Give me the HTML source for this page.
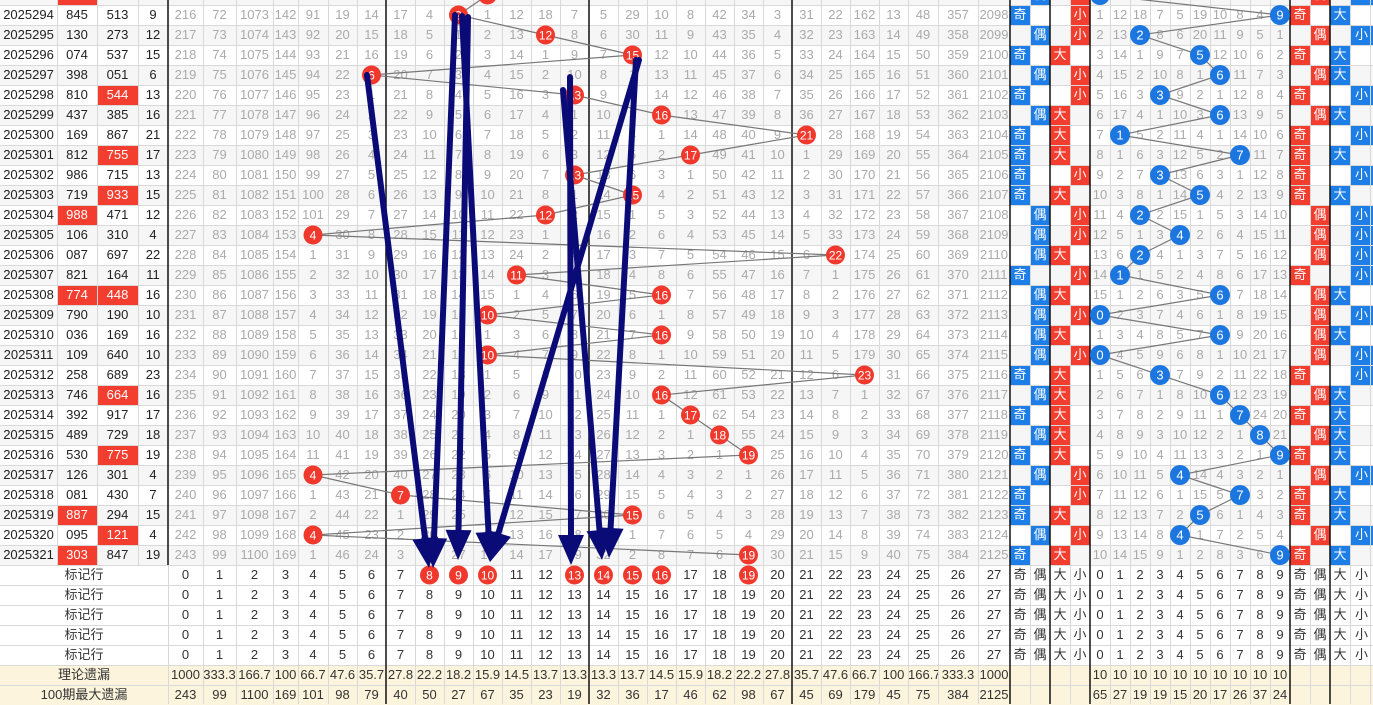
<!DOCTYPE html>
<html><head><meta charset="utf-8">
<style>
body{margin:0;width:1373px;height:704px;overflow:hidden;background:#fff;position:relative}
table{position:absolute;top:-15px;left:0;border-collapse:separate;border-spacing:0;table-layout:fixed;width:1373px;font:13px "Liberation Sans","Noto Sans CJK SC",sans-serif}
td{height:20px;padding:0;text-align:center;line-height:20px;color:#aaa;white-space:nowrap;overflow:hidden}
tr:nth-child(odd) td{background:#f6f6f6}
tr.d td:nth-child(-n+4){color:#222}
td.x{background:#f23d2f!important;color:#fff!important}
td.b{background:#1c7ee6!important;color:#fff!important}
tr.m td{color:#333;background:#fff}
tr.s td{color:#333;background:#fcf4dc}
svg{position:absolute;left:0;top:0}
</style></head><body>
<table>
<colgroup><col style="width:57px"><col style="width:40px"><col style="width:41px"><col style="width:30px">
<col style="width:35px"><col style="width:33px"><col style="width:37px"><col style="width:25px"><col style="width:30px"><col style="width:29px"><col style="width:29px">
<col style="width:29px"><col style="width:29px"><col style="width:29px"><col style="width:29px"><col style="width:29px"><col style="width:29px"><col style="width:29px">
<col style="width:29px"><col style="width:29px"><col style="width:29px"><col style="width:29px"><col style="width:29px"><col style="width:29px"><col style="width:29px">
<col style="width:29px"><col style="width:29px"><col style="width:29px"><col style="width:29px"><col style="width:30px"><col style="width:40px"><col style="width:32px">
<col style="width:20px"><col style="width:20px"><col style="width:20px"><col style="width:20px">
<col style="width:20px"><col style="width:20px"><col style="width:20px"><col style="width:20px"><col style="width:20px"><col style="width:20px"><col style="width:20px"><col style="width:20px"><col style="width:20px"><col style="width:20px">
<col style="width:20px"><col style="width:20px"><col style="width:20px"><col style="width:23px"></colgroup>
<tr class="d"><td></td><td class="x"></td><td></td><td></td><td></td><td></td><td></td><td></td><td></td><td></td><td></td><td></td><td></td><td></td><td></td><td></td><td></td><td></td><td></td><td></td><td></td><td></td><td></td><td></td><td></td><td></td><td></td><td></td><td></td><td></td><td></td><td></td><td></td><td class="b">偶</td><td></td><td class="x">小</td><td></td><td></td><td></td><td></td><td></td><td></td><td></td><td></td><td></td><td></td><td></td><td class="x">偶</td><td></td><td class="b">小</td></tr>
<tr class="d"><td>2025294</td><td>845</td><td>513</td><td>9</td><td>216</td><td>72</td><td>1073</td><td>142</td><td>91</td><td>19</td><td>14</td><td>17</td><td>4</td><td></td><td>1</td><td>12</td><td>18</td><td>7</td><td>5</td><td>29</td><td>10</td><td>8</td><td>42</td><td>34</td><td>3</td><td>31</td><td>22</td><td>162</td><td>13</td><td>48</td><td>357</td><td>2098</td><td class="b">奇</td><td></td><td></td><td class="x">小</td><td>1</td><td>12</td><td>18</td><td>7</td><td>5</td><td>19</td><td>10</td><td>8</td><td>4</td><td></td><td class="x">奇</td><td></td><td class="b">大</td><td></td></tr>
<tr class="d"><td>2025295</td><td>130</td><td>273</td><td>12</td><td>217</td><td>73</td><td>1074</td><td>143</td><td>92</td><td>20</td><td>15</td><td>18</td><td>5</td><td>1</td><td>2</td><td>13</td><td></td><td>8</td><td>6</td><td>30</td><td>11</td><td>9</td><td>43</td><td>35</td><td>4</td><td>32</td><td>23</td><td>163</td><td>14</td><td>49</td><td>358</td><td>2099</td><td></td><td class="b">偶</td><td></td><td class="x">小</td><td>2</td><td>13</td><td></td><td>8</td><td>6</td><td>20</td><td>11</td><td>9</td><td>5</td><td>1</td><td></td><td class="x">偶</td><td></td><td class="b">小</td></tr>
<tr class="d"><td>2025296</td><td>074</td><td>537</td><td>15</td><td>218</td><td>74</td><td>1075</td><td>144</td><td>93</td><td>21</td><td>16</td><td>19</td><td>6</td><td>2</td><td>3</td><td>14</td><td>1</td><td>9</td><td>7</td><td></td><td>12</td><td>10</td><td>44</td><td>36</td><td>5</td><td>33</td><td>24</td><td>164</td><td>15</td><td>50</td><td>359</td><td>2100</td><td class="b">奇</td><td></td><td class="x">大</td><td></td><td>3</td><td>14</td><td>1</td><td>9</td><td>7</td><td></td><td>12</td><td>10</td><td>6</td><td>2</td><td class="x">奇</td><td></td><td class="b">大</td><td></td></tr>
<tr class="d"><td>2025297</td><td>398</td><td>051</td><td>6</td><td>219</td><td>75</td><td>1076</td><td>145</td><td>94</td><td>22</td><td></td><td>20</td><td>7</td><td>3</td><td>4</td><td>15</td><td>2</td><td>10</td><td>8</td><td>1</td><td>13</td><td>11</td><td>45</td><td>37</td><td>6</td><td>34</td><td>25</td><td>165</td><td>16</td><td>51</td><td>360</td><td>2101</td><td></td><td class="b">偶</td><td></td><td class="x">小</td><td>4</td><td>15</td><td>2</td><td>10</td><td>8</td><td>1</td><td></td><td>11</td><td>7</td><td>3</td><td></td><td class="x">偶</td><td class="b">大</td><td></td></tr>
<tr class="d"><td>2025298</td><td>810</td><td class="x">544</td><td>13</td><td>220</td><td>76</td><td>1077</td><td>146</td><td>95</td><td>23</td><td>1</td><td>21</td><td>8</td><td>4</td><td>5</td><td>16</td><td>3</td><td></td><td>9</td><td>2</td><td>14</td><td>12</td><td>46</td><td>38</td><td>7</td><td>35</td><td>26</td><td>166</td><td>17</td><td>52</td><td>361</td><td>2102</td><td class="b">奇</td><td></td><td></td><td class="x">小</td><td>5</td><td>16</td><td>3</td><td></td><td>9</td><td>2</td><td>1</td><td>12</td><td>8</td><td>4</td><td class="x">奇</td><td></td><td></td><td class="b">小</td></tr>
<tr class="d"><td>2025299</td><td>437</td><td>385</td><td>16</td><td>221</td><td>77</td><td>1078</td><td>147</td><td>96</td><td>24</td><td>2</td><td>22</td><td>9</td><td>5</td><td>6</td><td>17</td><td>4</td><td>1</td><td>10</td><td>3</td><td></td><td>13</td><td>47</td><td>39</td><td>8</td><td>36</td><td>27</td><td>167</td><td>18</td><td>53</td><td>362</td><td>2103</td><td></td><td class="b">偶</td><td class="x">大</td><td></td><td>6</td><td>17</td><td>4</td><td>1</td><td>10</td><td>3</td><td></td><td>13</td><td>9</td><td>5</td><td></td><td class="x">偶</td><td class="b">大</td><td></td></tr>
<tr class="d"><td>2025300</td><td>169</td><td>867</td><td>21</td><td>222</td><td>78</td><td>1079</td><td>148</td><td>97</td><td>25</td><td>3</td><td>23</td><td>10</td><td>6</td><td>7</td><td>18</td><td>5</td><td>2</td><td>11</td><td>4</td><td>1</td><td>14</td><td>48</td><td>40</td><td>9</td><td></td><td>28</td><td>168</td><td>19</td><td>54</td><td>363</td><td>2104</td><td class="b">奇</td><td></td><td class="x">大</td><td></td><td>7</td><td></td><td>5</td><td>2</td><td>11</td><td>4</td><td>1</td><td>14</td><td>10</td><td>6</td><td class="x">奇</td><td></td><td></td><td class="b">小</td></tr>
<tr class="d"><td>2025301</td><td>812</td><td class="x">755</td><td>17</td><td>223</td><td>79</td><td>1080</td><td>149</td><td>98</td><td>26</td><td>4</td><td>24</td><td>11</td><td>7</td><td>8</td><td>19</td><td>6</td><td>3</td><td>12</td><td>5</td><td>2</td><td></td><td>49</td><td>41</td><td>10</td><td>1</td><td>29</td><td>169</td><td>20</td><td>55</td><td>364</td><td>2105</td><td class="b">奇</td><td></td><td class="x">大</td><td></td><td>8</td><td>1</td><td>6</td><td>3</td><td>12</td><td>5</td><td>2</td><td></td><td>11</td><td>7</td><td class="x">奇</td><td></td><td class="b">大</td><td></td></tr>
<tr class="d"><td>2025302</td><td>986</td><td>715</td><td>13</td><td>224</td><td>80</td><td>1081</td><td>150</td><td>99</td><td>27</td><td>5</td><td>25</td><td>12</td><td>8</td><td>9</td><td>20</td><td>7</td><td></td><td>13</td><td>6</td><td>3</td><td>1</td><td>50</td><td>42</td><td>11</td><td>2</td><td>30</td><td>170</td><td>21</td><td>56</td><td>365</td><td>2106</td><td class="b">奇</td><td></td><td></td><td class="x">小</td><td>9</td><td>2</td><td>7</td><td></td><td>13</td><td>6</td><td>3</td><td>1</td><td>12</td><td>8</td><td class="x">奇</td><td></td><td></td><td class="b">小</td></tr>
<tr class="d"><td>2025303</td><td>719</td><td class="x">933</td><td>15</td><td>225</td><td>81</td><td>1082</td><td>151</td><td>100</td><td>28</td><td>6</td><td>26</td><td>13</td><td>9</td><td>10</td><td>21</td><td>8</td><td>1</td><td>14</td><td></td><td>4</td><td>2</td><td>51</td><td>43</td><td>12</td><td>3</td><td>31</td><td>171</td><td>22</td><td>57</td><td>366</td><td>2107</td><td class="b">奇</td><td></td><td class="x">大</td><td></td><td>10</td><td>3</td><td>8</td><td>1</td><td>14</td><td></td><td>4</td><td>2</td><td>13</td><td>9</td><td class="x">奇</td><td></td><td class="b">大</td><td></td></tr>
<tr class="d"><td>2025304</td><td class="x">988</td><td>471</td><td>12</td><td>226</td><td>82</td><td>1083</td><td>152</td><td>101</td><td>29</td><td>7</td><td>27</td><td>14</td><td>10</td><td>11</td><td>22</td><td></td><td>2</td><td>15</td><td>1</td><td>5</td><td>3</td><td>52</td><td>44</td><td>13</td><td>4</td><td>32</td><td>172</td><td>23</td><td>58</td><td>367</td><td>2108</td><td></td><td class="b">偶</td><td></td><td class="x">小</td><td>11</td><td>4</td><td></td><td>2</td><td>15</td><td>1</td><td>5</td><td>3</td><td>14</td><td>10</td><td></td><td class="x">偶</td><td></td><td class="b">小</td></tr>
<tr class="d"><td>2025305</td><td>106</td><td>310</td><td>4</td><td>227</td><td>83</td><td>1084</td><td>153</td><td></td><td>30</td><td>8</td><td>28</td><td>15</td><td>11</td><td>12</td><td>23</td><td>1</td><td>3</td><td>16</td><td>2</td><td>6</td><td>4</td><td>53</td><td>45</td><td>14</td><td>5</td><td>33</td><td>173</td><td>24</td><td>59</td><td>368</td><td>2109</td><td></td><td class="b">偶</td><td></td><td class="x">小</td><td>12</td><td>5</td><td>1</td><td>3</td><td></td><td>2</td><td>6</td><td>4</td><td>15</td><td>11</td><td></td><td class="x">偶</td><td></td><td class="b">小</td></tr>
<tr class="d"><td>2025306</td><td>087</td><td>697</td><td>22</td><td>228</td><td>84</td><td>1085</td><td>154</td><td>1</td><td>31</td><td>9</td><td>29</td><td>16</td><td>12</td><td>13</td><td>24</td><td>2</td><td>4</td><td>17</td><td>3</td><td>7</td><td>5</td><td>54</td><td>46</td><td>15</td><td>6</td><td></td><td>174</td><td>25</td><td>60</td><td>369</td><td>2110</td><td></td><td class="b">偶</td><td class="x">大</td><td></td><td>13</td><td>6</td><td></td><td>4</td><td>1</td><td>3</td><td>7</td><td>5</td><td>16</td><td>12</td><td></td><td class="x">偶</td><td></td><td class="b">小</td></tr>
<tr class="d"><td>2025307</td><td>821</td><td>164</td><td>11</td><td>229</td><td>85</td><td>1086</td><td>155</td><td>2</td><td>32</td><td>10</td><td>30</td><td>17</td><td>13</td><td>14</td><td></td><td>3</td><td>5</td><td>18</td><td>4</td><td>8</td><td>6</td><td>55</td><td>47</td><td>16</td><td>7</td><td>1</td><td>175</td><td>26</td><td>61</td><td>370</td><td>2111</td><td class="b">奇</td><td></td><td></td><td class="x">小</td><td>14</td><td></td><td>1</td><td>5</td><td>2</td><td>4</td><td>8</td><td>6</td><td>17</td><td>13</td><td class="x">奇</td><td></td><td></td><td class="b">小</td></tr>
<tr class="d"><td>2025308</td><td class="x">774</td><td class="x">448</td><td>16</td><td>230</td><td>86</td><td>1087</td><td>156</td><td>3</td><td>33</td><td>11</td><td>31</td><td>18</td><td>14</td><td>15</td><td>1</td><td>4</td><td>6</td><td>19</td><td>5</td><td></td><td>7</td><td>56</td><td>48</td><td>17</td><td>8</td><td>2</td><td>176</td><td>27</td><td>62</td><td>371</td><td>2112</td><td></td><td class="b">偶</td><td class="x">大</td><td></td><td>15</td><td>1</td><td>2</td><td>6</td><td>3</td><td>5</td><td></td><td>7</td><td>18</td><td>14</td><td></td><td class="x">偶</td><td class="b">大</td><td></td></tr>
<tr class="d"><td>2025309</td><td>790</td><td>190</td><td>10</td><td>231</td><td>87</td><td>1088</td><td>157</td><td>4</td><td>34</td><td>12</td><td>32</td><td>19</td><td>15</td><td></td><td>2</td><td>5</td><td>7</td><td>20</td><td>6</td><td>1</td><td>8</td><td>57</td><td>49</td><td>18</td><td>9</td><td>3</td><td>177</td><td>28</td><td>63</td><td>372</td><td>2113</td><td></td><td class="b">偶</td><td></td><td class="x">小</td><td></td><td>2</td><td>3</td><td>7</td><td>4</td><td>6</td><td>1</td><td>8</td><td>19</td><td>15</td><td></td><td class="x">偶</td><td></td><td class="b">小</td></tr>
<tr class="d"><td>2025310</td><td>036</td><td>169</td><td>16</td><td>232</td><td>88</td><td>1089</td><td>158</td><td>5</td><td>35</td><td>13</td><td>33</td><td>20</td><td>16</td><td>1</td><td>3</td><td>6</td><td>8</td><td>21</td><td>7</td><td></td><td>9</td><td>58</td><td>50</td><td>19</td><td>10</td><td>4</td><td>178</td><td>29</td><td>64</td><td>373</td><td>2114</td><td></td><td class="b">偶</td><td class="x">大</td><td></td><td>1</td><td>3</td><td>4</td><td>8</td><td>5</td><td>7</td><td></td><td>9</td><td>20</td><td>16</td><td></td><td class="x">偶</td><td class="b">大</td><td></td></tr>
<tr class="d"><td>2025311</td><td>109</td><td>640</td><td>10</td><td>233</td><td>89</td><td>1090</td><td>159</td><td>6</td><td>36</td><td>14</td><td>34</td><td>21</td><td>17</td><td></td><td>4</td><td>7</td><td>9</td><td>22</td><td>8</td><td>1</td><td>10</td><td>59</td><td>51</td><td>20</td><td>11</td><td>5</td><td>179</td><td>30</td><td>65</td><td>374</td><td>2115</td><td></td><td class="b">偶</td><td></td><td class="x">小</td><td></td><td>4</td><td>5</td><td>9</td><td>6</td><td>8</td><td>1</td><td>10</td><td>21</td><td>17</td><td></td><td class="x">偶</td><td></td><td class="b">小</td></tr>
<tr class="d"><td>2025312</td><td>258</td><td>689</td><td>23</td><td>234</td><td>90</td><td>1091</td><td>160</td><td>7</td><td>37</td><td>15</td><td>35</td><td>22</td><td>18</td><td>1</td><td>5</td><td>8</td><td>10</td><td>23</td><td>9</td><td>2</td><td>11</td><td>60</td><td>52</td><td>21</td><td>12</td><td>6</td><td></td><td>31</td><td>66</td><td>375</td><td>2116</td><td class="b">奇</td><td></td><td class="x">大</td><td></td><td>1</td><td>5</td><td>6</td><td></td><td>7</td><td>9</td><td>2</td><td>11</td><td>22</td><td>18</td><td class="x">奇</td><td></td><td></td><td class="b">小</td></tr>
<tr class="d"><td>2025313</td><td>746</td><td class="x">664</td><td>16</td><td>235</td><td>91</td><td>1092</td><td>161</td><td>8</td><td>38</td><td>16</td><td>36</td><td>23</td><td>19</td><td>2</td><td>6</td><td>9</td><td>11</td><td>24</td><td>10</td><td></td><td>12</td><td>61</td><td>53</td><td>22</td><td>13</td><td>7</td><td>1</td><td>32</td><td>67</td><td>376</td><td>2117</td><td></td><td class="b">偶</td><td class="x">大</td><td></td><td>2</td><td>6</td><td>7</td><td>1</td><td>8</td><td>10</td><td></td><td>12</td><td>23</td><td>19</td><td></td><td class="x">偶</td><td class="b">大</td><td></td></tr>
<tr class="d"><td>2025314</td><td>392</td><td>917</td><td>17</td><td>236</td><td>92</td><td>1093</td><td>162</td><td>9</td><td>39</td><td>17</td><td>37</td><td>24</td><td>20</td><td>3</td><td>7</td><td>10</td><td>12</td><td>25</td><td>11</td><td>1</td><td></td><td>62</td><td>54</td><td>23</td><td>14</td><td>8</td><td>2</td><td>33</td><td>68</td><td>377</td><td>2118</td><td class="b">奇</td><td></td><td class="x">大</td><td></td><td>3</td><td>7</td><td>8</td><td>2</td><td>9</td><td>11</td><td>1</td><td></td><td>24</td><td>20</td><td class="x">奇</td><td></td><td class="b">大</td><td></td></tr>
<tr class="d"><td>2025315</td><td>489</td><td>729</td><td>18</td><td>237</td><td>93</td><td>1094</td><td>163</td><td>10</td><td>40</td><td>18</td><td>38</td><td>25</td><td>21</td><td>4</td><td>8</td><td>11</td><td>13</td><td>26</td><td>12</td><td>2</td><td>1</td><td></td><td>55</td><td>24</td><td>15</td><td>9</td><td>3</td><td>34</td><td>69</td><td>378</td><td>2119</td><td></td><td class="b">偶</td><td class="x">大</td><td></td><td>4</td><td>8</td><td>9</td><td>3</td><td>10</td><td>12</td><td>2</td><td>1</td><td></td><td>21</td><td></td><td class="x">偶</td><td class="b">大</td><td></td></tr>
<tr class="d"><td>2025316</td><td>530</td><td class="x">775</td><td>19</td><td>238</td><td>94</td><td>1095</td><td>164</td><td>11</td><td>41</td><td>19</td><td>39</td><td>26</td><td>22</td><td>5</td><td>9</td><td>12</td><td>14</td><td>27</td><td>13</td><td>3</td><td>2</td><td>1</td><td></td><td>25</td><td>16</td><td>10</td><td>4</td><td>35</td><td>70</td><td>379</td><td>2120</td><td class="b">奇</td><td></td><td class="x">大</td><td></td><td>5</td><td>9</td><td>10</td><td>4</td><td>11</td><td>13</td><td>3</td><td>2</td><td>1</td><td></td><td class="x">奇</td><td></td><td class="b">大</td><td></td></tr>
<tr class="d"><td>2025317</td><td>126</td><td>301</td><td>4</td><td>239</td><td>95</td><td>1096</td><td>165</td><td></td><td>42</td><td>20</td><td>40</td><td>27</td><td>23</td><td>6</td><td>10</td><td>13</td><td>15</td><td>28</td><td>14</td><td>4</td><td>3</td><td>2</td><td>1</td><td>26</td><td>17</td><td>11</td><td>5</td><td>36</td><td>71</td><td>380</td><td>2121</td><td></td><td class="b">偶</td><td></td><td class="x">小</td><td>6</td><td>10</td><td>11</td><td>5</td><td></td><td>14</td><td>4</td><td>3</td><td>2</td><td>1</td><td></td><td class="x">偶</td><td></td><td class="b">小</td></tr>
<tr class="d"><td>2025318</td><td>081</td><td>430</td><td>7</td><td>240</td><td>96</td><td>1097</td><td>166</td><td>1</td><td>43</td><td>21</td><td></td><td>28</td><td>24</td><td>7</td><td>11</td><td>14</td><td>16</td><td>29</td><td>15</td><td>5</td><td>4</td><td>3</td><td>2</td><td>27</td><td>18</td><td>12</td><td>6</td><td>37</td><td>72</td><td>381</td><td>2122</td><td class="b">奇</td><td></td><td></td><td class="x">小</td><td>7</td><td>11</td><td>12</td><td>6</td><td>1</td><td>15</td><td>5</td><td></td><td>3</td><td>2</td><td class="x">奇</td><td></td><td class="b">大</td><td></td></tr>
<tr class="d"><td>2025319</td><td class="x">887</td><td>294</td><td>15</td><td>241</td><td>97</td><td>1098</td><td>167</td><td>2</td><td>44</td><td>22</td><td>1</td><td>29</td><td>25</td><td>8</td><td>12</td><td>15</td><td>17</td><td>30</td><td></td><td>6</td><td>5</td><td>4</td><td>3</td><td>28</td><td>19</td><td>13</td><td>7</td><td>38</td><td>73</td><td>382</td><td>2123</td><td class="b">奇</td><td></td><td class="x">大</td><td></td><td>8</td><td>12</td><td>13</td><td>7</td><td>2</td><td></td><td>6</td><td>1</td><td>4</td><td>3</td><td class="x">奇</td><td></td><td class="b">大</td><td></td></tr>
<tr class="d"><td>2025320</td><td>095</td><td class="x">121</td><td>4</td><td>242</td><td>98</td><td>1099</td><td>168</td><td></td><td>45</td><td>23</td><td>2</td><td>30</td><td>26</td><td>9</td><td>13</td><td>16</td><td>18</td><td>31</td><td>1</td><td>7</td><td>6</td><td>5</td><td>4</td><td>29</td><td>20</td><td>14</td><td>8</td><td>39</td><td>74</td><td>383</td><td>2124</td><td></td><td class="b">偶</td><td></td><td class="x">小</td><td>9</td><td>13</td><td>14</td><td>8</td><td></td><td>1</td><td>7</td><td>2</td><td>5</td><td>4</td><td></td><td class="x">偶</td><td></td><td class="b">小</td></tr>
<tr class="d"><td>2025321</td><td class="x">303</td><td>847</td><td>19</td><td>243</td><td>99</td><td>1100</td><td>169</td><td>1</td><td>46</td><td>24</td><td>3</td><td>31</td><td>27</td><td>10</td><td>14</td><td>17</td><td>19</td><td>32</td><td>2</td><td>8</td><td>7</td><td>6</td><td></td><td>30</td><td>21</td><td>15</td><td>9</td><td>40</td><td>75</td><td>384</td><td>2125</td><td class="b">奇</td><td></td><td class="x">大</td><td></td><td>10</td><td>14</td><td>15</td><td>9</td><td>1</td><td>2</td><td>8</td><td>3</td><td>6</td><td></td><td class="x">奇</td><td></td><td class="b">大</td><td></td></tr>
<tr class="m"><td colspan="4">标记行</td><td>0</td><td>1</td><td>2</td><td>3</td><td>4</td><td>5</td><td>6</td><td>7</td><td></td><td></td><td></td><td>11</td><td>12</td><td></td><td></td><td></td><td></td><td>17</td><td>18</td><td></td><td>20</td><td>21</td><td>22</td><td>23</td><td>24</td><td>25</td><td>26</td><td>27</td><td>奇</td><td>偶</td><td>大</td><td>小</td><td>0</td><td>1</td><td>2</td><td>3</td><td>4</td><td>5</td><td>6</td><td>7</td><td>8</td><td>9</td><td>奇</td><td>偶</td><td>大</td><td>小</td></tr>
<tr class="m"><td colspan="4">标记行</td><td>0</td><td>1</td><td>2</td><td>3</td><td>4</td><td>5</td><td>6</td><td>7</td><td>8</td><td>9</td><td>10</td><td>11</td><td>12</td><td>13</td><td>14</td><td>15</td><td>16</td><td>17</td><td>18</td><td>19</td><td>20</td><td>21</td><td>22</td><td>23</td><td>24</td><td>25</td><td>26</td><td>27</td><td>奇</td><td>偶</td><td>大</td><td>小</td><td>0</td><td>1</td><td>2</td><td>3</td><td>4</td><td>5</td><td>6</td><td>7</td><td>8</td><td>9</td><td>奇</td><td>偶</td><td>大</td><td>小</td></tr>
<tr class="m"><td colspan="4">标记行</td><td>0</td><td>1</td><td>2</td><td>3</td><td>4</td><td>5</td><td>6</td><td>7</td><td>8</td><td>9</td><td>10</td><td>11</td><td>12</td><td>13</td><td>14</td><td>15</td><td>16</td><td>17</td><td>18</td><td>19</td><td>20</td><td>21</td><td>22</td><td>23</td><td>24</td><td>25</td><td>26</td><td>27</td><td>奇</td><td>偶</td><td>大</td><td>小</td><td>0</td><td>1</td><td>2</td><td>3</td><td>4</td><td>5</td><td>6</td><td>7</td><td>8</td><td>9</td><td>奇</td><td>偶</td><td>大</td><td>小</td></tr>
<tr class="m"><td colspan="4">标记行</td><td>0</td><td>1</td><td>2</td><td>3</td><td>4</td><td>5</td><td>6</td><td>7</td><td>8</td><td>9</td><td>10</td><td>11</td><td>12</td><td>13</td><td>14</td><td>15</td><td>16</td><td>17</td><td>18</td><td>19</td><td>20</td><td>21</td><td>22</td><td>23</td><td>24</td><td>25</td><td>26</td><td>27</td><td>奇</td><td>偶</td><td>大</td><td>小</td><td>0</td><td>1</td><td>2</td><td>3</td><td>4</td><td>5</td><td>6</td><td>7</td><td>8</td><td>9</td><td>奇</td><td>偶</td><td>大</td><td>小</td></tr>
<tr class="m"><td colspan="4">标记行</td><td>0</td><td>1</td><td>2</td><td>3</td><td>4</td><td>5</td><td>6</td><td>7</td><td>8</td><td>9</td><td>10</td><td>11</td><td>12</td><td>13</td><td>14</td><td>15</td><td>16</td><td>17</td><td>18</td><td>19</td><td>20</td><td>21</td><td>22</td><td>23</td><td>24</td><td>25</td><td>26</td><td>27</td><td>奇</td><td>偶</td><td>大</td><td>小</td><td>0</td><td>1</td><td>2</td><td>3</td><td>4</td><td>5</td><td>6</td><td>7</td><td>8</td><td>9</td><td>奇</td><td>偶</td><td>大</td><td>小</td></tr>
<tr class="s"><td colspan="4">理论遗漏</td><td>1000</td><td>333.3</td><td>166.7</td><td>100</td><td>66.7</td><td>47.6</td><td>35.7</td><td>27.8</td><td>22.2</td><td>18.2</td><td>15.9</td><td>14.5</td><td>13.7</td><td>13.3</td><td>13.3</td><td>13.7</td><td>14.5</td><td>15.9</td><td>18.2</td><td>22.2</td><td>27.8</td><td>35.7</td><td>47.6</td><td>66.7</td><td>100</td><td>166.7</td><td>333.3</td><td>1000</td><td></td><td></td><td></td><td></td><td>10</td><td>10</td><td>10</td><td>10</td><td>10</td><td>10</td><td>10</td><td>10</td><td>10</td><td>10</td><td></td><td></td><td></td><td></td></tr>
<tr class="s"><td colspan="4">100期最大遗漏</td><td>243</td><td>99</td><td>1100</td><td>169</td><td>101</td><td>98</td><td>79</td><td>40</td><td>50</td><td>27</td><td>67</td><td>35</td><td>23</td><td>19</td><td>32</td><td>36</td><td>17</td><td>46</td><td>62</td><td>98</td><td>67</td><td>45</td><td>69</td><td>179</td><td>45</td><td>75</td><td>384</td><td>2125</td><td></td><td></td><td></td><td></td><td>65</td><td>27</td><td>19</td><td>19</td><td>15</td><td>20</td><td>17</td><td>26</td><td>37</td><td>24</td><td></td><td></td><td></td><td></td></tr>
</table>
<svg width="1373" height="704" viewBox="0 0 1373 704" font-family="Liberation Sans, sans-serif">
<path fill="none" stroke="#d9d9d9" stroke-width="1" d="M0 5.5H1373M0 25.5H1373M0 45.5H1373M0 65.5H1373M0 85.5H1373M0 105.5H1373M0 125.5H1373M0 145.5H1373M0 165.5H1373M0 185.5H1373M0 205.5H1373M0 225.5H1373M0 245.5H1373M0 265.5H1373M0 285.5H1373M0 305.5H1373M0 325.5H1373M0 345.5H1373M0 365.5H1373M0 385.5H1373M0 405.5H1373M0 425.5H1373M0 445.5H1373M0 465.5H1373M0 485.5H1373M0 505.5H1373M0 525.5H1373M0 545.5H1373M0 565.5H1373M0 585.5H1373M0 605.5H1373M0 625.5H1373M0 645.5H1373M0 665.5H1373M0 685.5H1373
M57.5 0V565M97.5 0V565M138.5 0V565M203.5 0V704M236.5 0V704M273.5 0V704M298.5 0V704M328.5 0V704M357.5 0V704M415.5 0V704M444.5 0V704M473.5 0V704M502.5 0V704M531.5 0V704M560.5 0V704M618.5 0V704M647.5 0V704M676.5 0V704M705.5 0V704M734.5 0V704M763.5 0V704M821.5 0V704M850.5 0V704M879.5 0V704M908.5 0V704M938.5 0V704M978.5 0V704M1030.5 0V704M1070.5 0V704M1110.5 0V704M1130.5 0V704M1150.5 0V704M1170.5 0V704M1190.5 0V704M1210.5 0V704M1230.5 0V704M1250.5 0V704M1270.5 0V704M1310.5 0V704M1350.5 0V704M1370.5 0V704M168.5 565V704"/>
<path fill="none" stroke="#111" stroke-width="1.5" d="M168 0V565M386 0V704M589 0V704M792 0V704M1010 0V704M1050 0V704M1090 0V704M1290 0V704M1330 0V704"/>
<polyline fill="none" stroke="#777" stroke-width="1.2" points="487.5,-5 458.5,15 545.5,35 632.5,55 371.5,75 574.5,95 661.5,115 806.5,135 690.5,155 574.5,175 632.5,195 545.5,215 313,235 835.5,255 516.5,275 661.5,295 487.5,315 661.5,335 487.5,355 864.5,375 661.5,395 690.5,415 719.5,435 748.5,455 313,475 400.5,495 632.5,515 313,535 748.5,555"/>
<polyline fill="none" stroke="#777" stroke-width="1.2" points="1100,-5 1280,15 1140,35 1200,55 1220,75 1160,95 1220,115 1120,135 1240,155 1160,175 1200,195 1140,215 1180,235 1140,255 1120,275 1220,295 1100,315 1220,335 1100,355 1160,375 1220,395 1240,415 1260,435 1280,455 1180,475 1240,495 1200,515 1180,535 1280,555"/>
<g fill="#f0392c"><circle cx="487.5" cy="-5" r="9.5"/><circle cx="458.5" cy="15" r="9.5"/><circle cx="545.5" cy="35" r="9.5"/><circle cx="632.5" cy="55" r="9.5"/><circle cx="371.5" cy="75" r="9.5"/><circle cx="574.5" cy="95" r="9.5"/><circle cx="661.5" cy="115" r="9.5"/><circle cx="806.5" cy="135" r="9.5"/><circle cx="690.5" cy="155" r="9.5"/><circle cx="574.5" cy="175" r="9.5"/><circle cx="632.5" cy="195" r="9.5"/><circle cx="545.5" cy="215" r="9.5"/><circle cx="313" cy="235" r="9.5"/><circle cx="835.5" cy="255" r="9.5"/><circle cx="516.5" cy="275" r="9.5"/><circle cx="661.5" cy="295" r="9.5"/><circle cx="487.5" cy="315" r="9.5"/><circle cx="661.5" cy="335" r="9.5"/><circle cx="487.5" cy="355" r="9.5"/><circle cx="864.5" cy="375" r="9.5"/><circle cx="661.5" cy="395" r="9.5"/><circle cx="690.5" cy="415" r="9.5"/><circle cx="719.5" cy="435" r="9.5"/><circle cx="748.5" cy="455" r="9.5"/><circle cx="313" cy="475" r="9.5"/><circle cx="400.5" cy="495" r="9.5"/><circle cx="632.5" cy="515" r="9.5"/><circle cx="313" cy="535" r="9.5"/><circle cx="748.5" cy="555" r="9.5"/>
<circle cx="429.5" cy="575" r="9.5"/><circle cx="458.5" cy="575" r="9.5"/><circle cx="487.5" cy="575" r="9.5"/><circle cx="574.5" cy="575" r="9.5"/><circle cx="603.5" cy="575" r="9.5"/><circle cx="632.5" cy="575" r="9.5"/><circle cx="661.5" cy="575" r="9.5"/><circle cx="748.5" cy="575" r="9.5"/></g>
<g fill="#fff" font-size="12" text-anchor="middle"><text x="487.5" y="-1">10</text><text x="458.5" y="19.5">9</text><text x="545.5" y="39.5">12</text><text x="632.5" y="59.5">15</text><text x="371.5" y="79.5">6</text><text x="574.5" y="99.5">13</text><text x="661.5" y="119.5">16</text><text x="806.5" y="139.5">21</text><text x="690.5" y="159.5">17</text><text x="574.5" y="179.5">13</text><text x="632.5" y="199.5">15</text><text x="545.5" y="219.5">12</text><text x="313" y="239.5">4</text><text x="835.5" y="259.5">22</text><text x="516.5" y="279.5">11</text><text x="661.5" y="299.5">16</text><text x="487.5" y="319.5">10</text><text x="661.5" y="339.5">16</text><text x="487.5" y="359.5">10</text><text x="864.5" y="379.5">23</text><text x="661.5" y="399.5">16</text><text x="690.5" y="419.5">17</text><text x="719.5" y="439.5">18</text><text x="748.5" y="459.5">19</text><text x="313" y="479.5">4</text><text x="400.5" y="499.5">7</text><text x="632.5" y="519.5">15</text><text x="313" y="539.5">4</text><text x="748.5" y="559.5">19</text>
<text x="429.5" y="579.5">8</text><text x="458.5" y="579.5">9</text><text x="487.5" y="579.5">10</text><text x="574.5" y="579.5">13</text><text x="603.5" y="579.5">14</text><text x="632.5" y="579.5">15</text><text x="661.5" y="579.5">16</text><text x="748.5" y="579.5">19</text></g>
<g fill="#1b76df"><circle cx="1100" cy="-5" r="10"/><circle cx="1280" cy="15" r="10"/><circle cx="1140" cy="35" r="10"/><circle cx="1200" cy="55" r="10"/><circle cx="1220" cy="75" r="10"/><circle cx="1160" cy="95" r="10"/><circle cx="1220" cy="115" r="10"/><circle cx="1120" cy="135" r="10"/><circle cx="1240" cy="155" r="10"/><circle cx="1160" cy="175" r="10"/><circle cx="1200" cy="195" r="10"/><circle cx="1140" cy="215" r="10"/><circle cx="1180" cy="235" r="10"/><circle cx="1140" cy="255" r="10"/><circle cx="1120" cy="275" r="10"/><circle cx="1220" cy="295" r="10"/><circle cx="1100" cy="315" r="10"/><circle cx="1220" cy="335" r="10"/><circle cx="1100" cy="355" r="10"/><circle cx="1160" cy="375" r="10"/><circle cx="1220" cy="395" r="10"/><circle cx="1240" cy="415" r="10"/><circle cx="1260" cy="435" r="10"/><circle cx="1280" cy="455" r="10"/><circle cx="1180" cy="475" r="10"/><circle cx="1240" cy="495" r="10"/><circle cx="1200" cy="515" r="10"/><circle cx="1180" cy="535" r="10"/><circle cx="1280" cy="555" r="10"/></g>
<g fill="#fff" font-size="13" text-anchor="middle"><text x="1100" y="-0.5">0</text><text x="1280" y="19.5">9</text><text x="1140" y="39.5">2</text><text x="1200" y="59.5">5</text><text x="1220" y="79.5">6</text><text x="1160" y="99.5">3</text><text x="1220" y="119.5">6</text><text x="1120" y="139.5">1</text><text x="1240" y="159.5">7</text><text x="1160" y="179.5">3</text><text x="1200" y="199.5">5</text><text x="1140" y="219.5">2</text><text x="1180" y="239.5">4</text><text x="1140" y="259.5">2</text><text x="1120" y="279.5">1</text><text x="1220" y="299.5">6</text><text x="1100" y="319.5">0</text><text x="1220" y="339.5">6</text><text x="1100" y="359.5">0</text><text x="1160" y="379.5">3</text><text x="1220" y="399.5">6</text><text x="1240" y="419.5">7</text><text x="1260" y="439.5">8</text><text x="1280" y="459.5">9</text><text x="1180" y="479.5">4</text><text x="1240" y="499.5">7</text><text x="1200" y="519.5">5</text><text x="1180" y="539.5">4</text><text x="1280" y="559.5">9</text></g>
<g stroke="#0b0b78" stroke-width="6" stroke-linecap="round" fill="none">
<line x1="367" y1="75" x2="425" y2="538"/><line x1="455" y1="15" x2="434" y2="538"/><line x1="468" y1="17" x2="458.5" y2="530"/><line x1="462" y1="16" x2="488.5" y2="532"/><line x1="639" y1="60" x2="498.5" y2="533"/><line x1="570" y1="77" x2="571" y2="535"/><line x1="563" y1="90" x2="599.5" y2="530"/><line x1="636" y1="60" x2="610.6" y2="528"/></g>
<g fill="#0b0b78"><polygon points="429,568 438.2,536.6 412.4,539.8"/><polygon points="433,568 447.2,538.5 421.2,537.5"/><polygon points="458,560 471.5,530.2 445.5,529.8"/><polygon points="490,562 501.5,531.3 475.5,532.7"/><polygon points="490,562 511,536.9 486,529.5"/><polygon points="571,565 584,535 558,535"/><polygon points="602,560 612.5,529 586.5,531.2"/><polygon points="609,558 623.6,528.7 597.6,527.3"/></g>
</svg>
</body></html>
